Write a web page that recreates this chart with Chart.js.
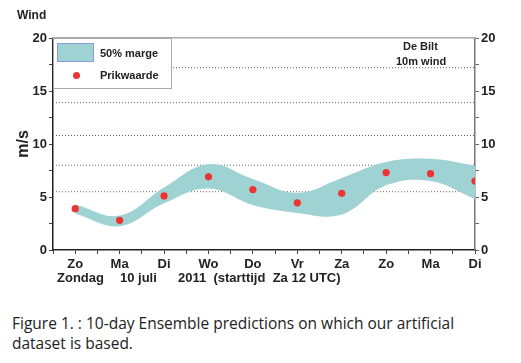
<!DOCTYPE html>
<html>
<head>
<meta charset="utf-8">
<script src="https://cdn.jsdelivr.net/npm/chart.js@4"></script>
<style>
  body { margin:0; background:#fff; }
  #wrap { position:relative; width:521px; height:363px; overflow:hidden; font-family:"Liberation Sans", Arial, sans-serif; }
  #box { position:absolute; left:0; top:0; width:521px; height:290px; }
  .t { position:absolute; font-weight:bold; color:#222; white-space:pre; line-height:1; }
  #legend { position:absolute; left:53px; top:38px; width:119px; height:51px; border:1px solid #aaa; background:#fff; box-sizing:border-box; }
  #swatch { position:absolute; left:3px; top:4px; width:37px; height:19px; background:#9ed2d3; border:1px solid #8a9ae0; box-sizing:border-box; }
  #dot { position:absolute; left:19px; top:33px; width:7px; height:7px; border-radius:50%; background:#ee3333; }
  .caption { position:absolute; left:12px; font-family:"Open Sans", sans-serif; font-size:15.5px; color:#222; white-space:pre; line-height:1; }
</style>
</head>
<body>
<div id="wrap">
  <div id="box"><canvas id="windChart"></canvas></div>

  <div class="t" style="left:17px;top:9px;font-size:12px;">Wind</div>

  <div id="legend">
    <div id="swatch"></div>
    <div id="dot"></div>
    <div class="t" style="left:46px;top:9px;font-size:11px;">50% marge</div>
    <div class="t" style="left:46px;top:31px;font-size:11px;">Prikwaarde</div>
  </div>

  <div class="t" style="left:403px;top:41px;font-size:11px;">De Bilt</div>
  <div class="t" style="left:396px;top:56px;font-size:11px;">10m wind</div>

  <div class="t" style="left:57px;top:271px;font-size:13px;">Zondag</div>
  <div class="t" style="left:120px;top:271px;font-size:13px;">10 juli</div>
  <div class="t" style="left:178px;top:271px;font-size:13px;">2011  (starttijd  Za 12 UTC)</div>

  <div class="caption" style="top:316px;">Figure 1. : 10-day Ensemble predictions on which our artificial</div>
  <div class="caption" style="top:336px;">dataset is based.</div>
</div>

<script>

// ==========================
// Data
// ==========================

const days = ["Zo","Ma","Di","Wo","Do","Vr","Za","Zo","Ma","Di"];

const prikwaarde = [3.9, 2.8, 5.1, 6.9, 5.7, 4.45, 5.35, 7.3, 7.2, 6.5];

const margeBoven = [4.3, 3.25, 5.9, 8.1, 6.7, 5.4, 6.8, 8.3, 8.6, 7.95];

const margeOnder = [3.45, 2.25, 4.4, 5.8, 4.25, 3.5, 3.35, 6.1, 6.5, 4.8];

// Beaufort boundaries (dotted lines)
const beaufort = [5.5, 8.0, 10.8, 13.9, 17.2];

const yTicks = [0, 5, 10, 15, 20];

// ==========================
// Chart
// ==========================

Chart.defaults.font.family = "'Liberation Sans', Arial, sans-serif";
Chart.defaults.color = "#222";

const xMin = -0.5;
const xMax = days.length - 1;

const toPoints = arr => arr.map((v,i) => ({x:i, y:v}));

const beaufortSets = beaufort.map(v => ({
    type:"line",
    data:[{x:xMin,y:v},{x:xMax,y:v}],
    borderColor:"#666",
    borderWidth:1,
    borderDash:[1,2],
    pointRadius:0,
    fill:false,
    order:3
}));

const chart = document.getElementById("windChart");

new Chart(chart,{

    type:"line",

    data:{

        datasets:[

            ...beaufortSets,

            {
                label:"onder",
                data:toPoints(margeOnder),
                borderWidth:0,
                borderColor:"rgba(0,0,0,0)",
                pointRadius:0,
                tension:.4,
                fill:false,
                order:2
            },

            {
                label:"50% marge",
                data:toPoints(margeBoven),
                borderWidth:0,
                borderColor:"rgba(0,0,0,0)",
                backgroundColor:"#9ed2d3",
                pointRadius:0,
                tension:.4,
                fill:"-1",
                order:2
            },

            {
                label:"Prikwaarde",
                data:toPoints(prikwaarde),
                showLine:false,
                pointRadius:3.6,
                pointBackgroundColor:"#ee3333",
                pointBorderWidth:0,
                order:1
            }

        ]

    },

    options:{

        responsive:true,
        maintainAspectRatio:false,
        animation:false,

        layout:{ padding:{ top:38, left:0, right:0, bottom:0 } },

        plugins:{
            legend:{ display:false },
            tooltip:{ enabled:false }
        },

        scales:{

            x:{
                type:"linear",
                min:xMin,
                max:xMax,
                afterFit: s => { s.height = 40; },
                ticks:{
                    stepSize:.5,
                    autoSkip:false,
                    maxRotation:0,
                    padding:3,
                    font:{ size:13, weight:"bold" },
                    callback: v => Number.isInteger(v) && v >= 0 ? days[v] : ""
                },
                grid:{ drawOnChartArea:false, tickLength:4, tickColor:"#444" },
                border:{ color:"#222", width:1.5 }
            },

            y:{
                position:"left",
                min:0,
                max:20,
                afterFit: s => { s.width = 53; },
                ticks:{
                    stepSize:2.5,
                    padding:2,
                    font:{ size:13, weight:"bold" },
                    callback: v => yTicks.includes(v) ? v : ""
                },
                title:{
                    display:true,
                    text:"m/s",
                    font:{ size:16, weight:"bold" },
                    padding:{ top:14, bottom:0 }
                },
                grid:{ drawOnChartArea:false, tickLength:4, tickColor:"#444" },
                border:{ color:"#222", width:1.5 }
            },

            y2:{
                position:"right",
                min:0,
                max:20,
                afterFit: s => { s.width = 46; },
                ticks:{
                    stepSize:2.5,
                    padding:2,
                    font:{ size:13, weight:"bold" },
                    callback: v => yTicks.includes(v) ? v : ""
                },
                grid:{ drawOnChartArea:false, tickLength:4, tickColor:"#666" },
                border:{ color:"#777", width:1.5 }
            },

            xTop:{
                type:"linear",
                position:"top",
                min:xMin,
                max:xMax,
                afterFit: s => { s.height = 0; },
                ticks:{ display:false },
                grid:{ display:false },
                border:{ color:"#aaa", width:1.5 }
            }

        }

    }

});

</script>
</body>
</html>
